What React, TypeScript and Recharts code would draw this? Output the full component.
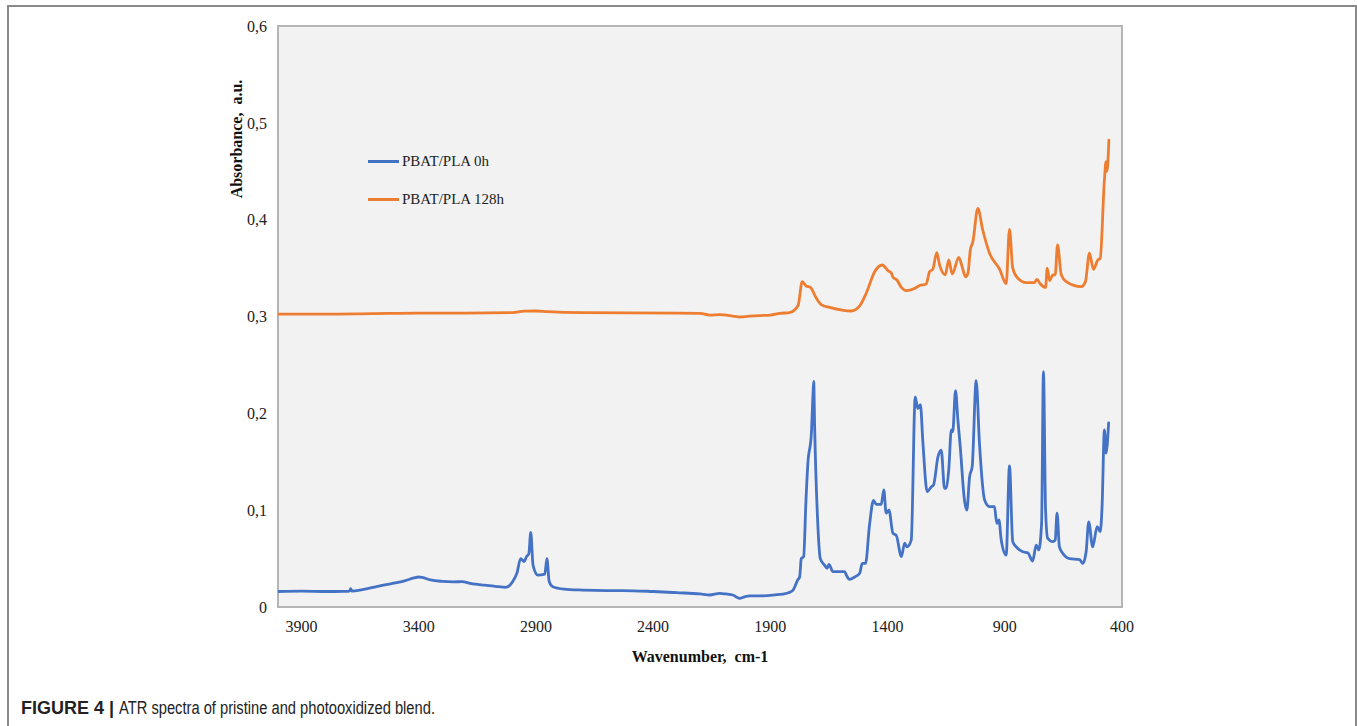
import React from 'react';
import { LineChart, Line, XAxis, YAxis, ReferenceArea, Legend } from 'recharts';

// PBAT/PLA 0h — wavenumber (cm-1) and absorbance
const wn0h = [
  4000, 3900, 3800, 3720, 3695, 3690, 3685, 3640, 3580, 3520, 3460, 3420, 3400, 3385, 3350, 3300,
  3250, 3215, 3180, 3120, 3060, 3030, 3011, 2990, 2981, 2965, 2950, 2940, 2930, 2922, 2912, 2892,
  2862, 2853, 2843, 2828, 2780, 2700, 2600, 2529, 2400, 2299, 2200, 2159, 2116, 2090, 2060, 2031,
  2010, 1988, 1940, 1880, 1847, 1820, 1803, 1783, 1775, 1768, 1758, 1748, 1740, 1725, 1718, 1715,
  1711, 1697, 1687, 1668, 1658, 1650, 1633, 1583, 1576, 1562, 1540, 1519, 1508, 1494, 1477, 1460,
  1448, 1427, 1416, 1406, 1394, 1377, 1363, 1341, 1327, 1317, 1299, 1282, 1271, 1260, 1249, 1231,
  1214, 1204, 1185, 1171, 1157, 1150, 1139, 1128, 1122, 1110, 1100, 1090, 1072, 1062, 1050, 1039,
  1022, 1008, 986, 965, 944, 934, 925, 915, 894, 880, 866, 851, 823, 802, 781, 766,
  755, 743, 735, 726, 717, 695, 685, 677, 667, 653, 624, 581, 567, 553, 542, 525,
  506, 493, 485, 475, 468, 457,
];
const abs0h = [
  0.016, 0.0163, 0.016, 0.0162, 0.0165, 0.019, 0.0165, 0.018, 0.021, 0.024, 0.027, 0.03, 0.031, 0.0305, 0.028, 0.0265,
  0.026, 0.0262, 0.0245, 0.0225, 0.021, 0.0203, 0.0225, 0.03, 0.035, 0.05, 0.047, 0.052, 0.055, 0.077, 0.043, 0.033,
  0.034, 0.05, 0.026, 0.021, 0.0185, 0.0175, 0.017, 0.017, 0.016, 0.0148, 0.0135, 0.0124, 0.0141, 0.0135, 0.0124, 0.009,
  0.0105, 0.0114, 0.0115, 0.0125, 0.0134, 0.015, 0.0175, 0.028, 0.031, 0.05, 0.052, 0.11, 0.148, 0.179, 0.22, 0.233,
  0.186, 0.083, 0.05, 0.043, 0.04, 0.044, 0.0365, 0.0365, 0.033, 0.0286, 0.031, 0.0348, 0.045, 0.045, 0.0847, 0.11,
  0.106, 0.106, 0.121, 0.097, 0.1, 0.076, 0.074, 0.052, 0.066, 0.062, 0.069, 0.217, 0.205, 0.209, 0.169, 0.119,
  0.124, 0.126, 0.155, 0.162, 0.1226, 0.123, 0.1415, 0.183, 0.181, 0.2234, 0.193, 0.1656, 0.1105, 0.1, 0.1346, 0.145,
  0.2337, 0.169, 0.1105, 0.1036, 0.1036, 0.0864, 0.0899, 0.069, 0.0537, 0.1456, 0.0675, 0.062, 0.057, 0.056, 0.0475, 0.064,
  0.059, 0.0864, 0.243, 0.1, 0.071, 0.0675, 0.069, 0.097, 0.062, 0.0555, 0.05, 0.049, 0.045, 0.057, 0.088, 0.062,
  0.083, 0.0778, 0.1036, 0.183, 0.159, 0.19,
];

// PBAT/PLA 128h
const wn128h = [
  4000, 3800, 3600, 3400, 3200, 3000, 2950, 2900, 2850, 2700, 2500, 2300, 2200, 2159, 2116, 2060,
  2031, 1990, 1945, 1900, 1860, 1818, 1782, 1764, 1747, 1729, 1704, 1682, 1647, 1555, 1519, 1491,
  1455, 1422, 1398, 1384, 1377, 1360, 1341, 1320, 1285, 1263, 1235, 1221, 1207, 1190, 1178, 1154,
  1139, 1124, 1096, 1082, 1067, 1057, 1047, 1036, 1015, 994, 965, 922, 894, 880, 866, 844,
  809, 773, 763, 748, 726, 719, 709, 695, 685, 675, 659, 638, 574, 556, 539, 522,
  503, 493, 475, 468, 465, 458, 456,
];
const abs128h = [
  0.3025, 0.3025, 0.303, 0.3035, 0.3035, 0.304, 0.3055, 0.3057, 0.305, 0.304, 0.3038, 0.3035, 0.3033, 0.3015, 0.302, 0.3005,
  0.2995, 0.3003, 0.301, 0.3015, 0.3033, 0.304, 0.311, 0.336, 0.3315, 0.33, 0.319, 0.312, 0.3095, 0.3057, 0.311, 0.324,
  0.3463, 0.3532, 0.3473, 0.345, 0.3405, 0.3377, 0.33, 0.3267, 0.329, 0.332, 0.3336, 0.3463, 0.3488, 0.366, 0.3532, 0.343,
  0.3584, 0.344, 0.361, 0.3515, 0.341, 0.3446, 0.3687, 0.3773, 0.4117, 0.3893, 0.3653, 0.3488, 0.334, 0.39, 0.35, 0.3395,
  0.335, 0.335, 0.3384, 0.3336, 0.33, 0.35, 0.337, 0.343, 0.343, 0.3739, 0.343, 0.336, 0.3308, 0.336, 0.3653, 0.3488,
  0.3584, 0.36, 0.441, 0.46, 0.45, 0.47, 0.482,
];

const xTicks = [3900, 3400, 2900, 2400, 1900, 1400, 900, 400];
const yTicks = [0, 0.1, 0.2, 0.3, 0.4, 0.5, 0.6];

const spectrum0h = wn0h.map((wn, i) => ({ wn, abs: abs0h[i] }));
const spectrum128h = wn128h.map((wn, i) => ({ wn, abs: abs128h[i] }));

const serif = '"Liberation Serif", "Times New Roman", serif';
const sans = '"Liberation Sans", Arial, sans-serif';

const fmtY = (v: number) => (v === 0 ? '0' : v.toFixed(1).replace('.', ','));

const LegendBox = ({ payload }: any) => (
  <div style={{ fontFamily: serif, fontSize: 15, color: '#222' }}>
    {(payload || []).map((p: any, i: number) => (
      <div key={i} style={{ display: 'flex', alignItems: 'center', height: 20, marginBottom: i === 0 ? 18 : 0 }}>
        <span style={{ display: 'inline-block', width: 31, height: 3, background: p.color, marginRight: 3 }} />
        <span>{p.value}</span>
      </div>
    ))}
  </div>
);

export default function App() {
  return (
    <div style={{ position: 'absolute', left: 0, top: 0, width: 1357, height: 726, overflow: 'hidden', background: '#fff' }}>
      {/* figure frame */}
      <div
        style={{
          position: 'absolute', left: 7, top: 5, width: 1350, height: 760,
          border: '2px solid #8a8a8a', boxSizing: 'border-box',
        }}
      />
      <div style={{ position: 'absolute', left: 0, top: 0 }}>
        <LineChart width={1357} height={726} margin={{ top: 26, right: 235, left: 0, bottom: 0 }}>
          <XAxis
            dataKey="wn"
            type="number"
            domain={[400, 4000]}
            reversed
            ticks={xTicks}
            allowDataOverflow
            axisLine={false}
            tickLine={false}
            tickSize={0}
            tickMargin={14}
            height={119}
            tick={{ fontFamily: serif, fontSize: 16, fill: '#222' }}
          />
          <YAxis
            type="number"
            domain={[0, 0.6]}
            ticks={yTicks}
            tickFormatter={fmtY}
            axisLine={false}
            tickLine={false}
            tickSize={0}
            tickMargin={11}
            width={278}
            tick={{ fontFamily: serif, fontSize: 16, fill: '#222' }}
          />
          <ReferenceArea
            x1={4000}
            x2={400}
            y1={0}
            y2={0.6}
            fill="#f2f2f2"
            fillOpacity={1}
            stroke="#b5b5b5"
            strokeWidth={2}
          />
          <Legend
            layout="vertical"
            align="center"
            verticalAlign="middle"
            content={<LegendBox />}
            wrapperStyle={{ left: 368, top: 151, width: 200 }}
          />
          <Line
            data={spectrum0h}
            dataKey="abs"
            name="PBAT/PLA 0h"
            type="monotoneX"
            stroke="#4472c4"
            strokeWidth={2.8}
            strokeLinejoin="round"
            strokeLinecap="round"
            dot={false}
            isAnimationActive={false}
          />
          <Line
            data={spectrum128h}
            dataKey="abs"
            name="PBAT/PLA 128h"
            type="monotoneX"
            stroke="#ed7d31"
            strokeWidth={2.8}
            strokeLinejoin="round"
            strokeLinecap="round"
            dot={false}
            isAnimationActive={false}
          />
        </LineChart>
      </div>
      {/* axis titles */}
      <div
        style={{
          position: 'absolute', left: 237, top: 139, transform: 'translate(-50%, -50%) rotate(-90deg)',
          fontFamily: serif, fontWeight: 'bold', fontSize: 16, whiteSpace: 'nowrap', color: '#111',
        }}
      >
        Absorbance,&nbsp; a.u.
      </div>
      <div
        style={{
          position: 'absolute', left: 700, top: 648, transform: 'translateX(-50%)',
          fontFamily: serif, fontWeight: 'bold', fontSize: 16, lineHeight: '18px', whiteSpace: 'nowrap', color: '#111',
        }}
      >
        Wavenumber,&nbsp; cm-1
      </div>
      {/* caption */}
      <div
        style={{
          position: 'absolute', left: 21, top: 697, fontFamily: sans, fontSize: 18, lineHeight: '22px',
          whiteSpace: 'nowrap', color: '#222',
        }}
      >
        <span style={{ fontWeight: 'bold' }}>FIGURE 4 | </span>
        <span style={{ display: 'inline-block', transform: 'scaleX(0.84)', transformOrigin: 'left center', fontSize: 17.5 }}>
          ATR spectra of pristine and photooxidized blend.
        </span>
      </div>
    </div>
  );
}
